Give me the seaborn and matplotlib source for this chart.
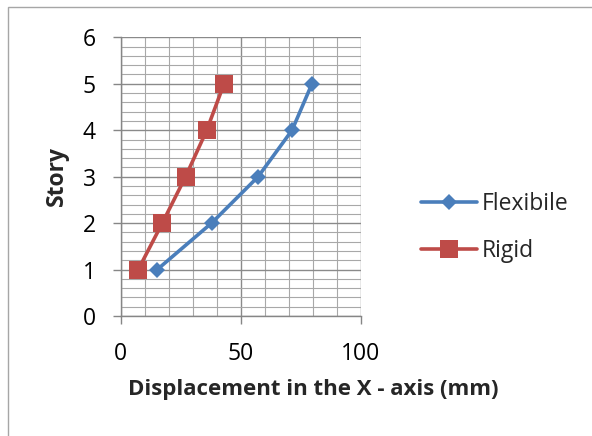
import matplotlib
matplotlib.use("Agg")
import matplotlib.pyplot as plt
from matplotlib.patches import Rectangle
from matplotlib.lines import Line2D
from matplotlib.ticker import MultipleLocator
import seaborn as sns
import pandas as pd

# Story drift data
stories = [1, 2, 3, 4, 5]
flexible_disp = [15.2, 37.8, 57.2, 71.3, 79.6]
rigid_disp = [7.3, 17.3, 27.0, 35.8, 43.0]
series_names = ["Flexibile", "Rigid"]

df = pd.DataFrame({
    "disp": flexible_disp + rigid_disp,
    "story": stories + stories,
    "model": [series_names[0]] * len(stories) + [series_names[1]] * len(stories),
})

sns.set_style("white")
plt.rcParams["font.family"] = ["Open Sans", "DejaVu Sans"]

fig = plt.figure(figsize=(5.92, 4.36), dpi=100)
ax = fig.add_axes([0.2039, 0.2752, 0.4059, 0.6392])

# outer chart border
fig.patches.append(Rectangle((8 / 592, -0.05), 1.2, 1 - 7 / 436 + 0.05,
                             transform=fig.transFigure, fill=False,
                             edgecolor="#a6a6a6", linewidth=1.0))

palette = {"Flexibile": "#4A7EBB", "Rigid": "#BE4B48"}
markers = {"Flexibile": "D", "Rigid": "s"}
marker_sizes = [8.0, 13.5]
sns.lineplot(data=df, x="disp", y="story", hue="model", style="model",
             palette=palette, markers=markers, dashes=False, sort=False,
             linewidth=2.6, ax=ax, legend=False, zorder=3)
for line, ms in zip(ax.lines, marker_sizes):
    line.set_markersize(ms)
    line.set_markeredgewidth(0)

ax.set_xlim(0, 100)
ax.set_ylim(0, 6)
ax.xaxis.set_major_locator(MultipleLocator(50))
ax.xaxis.set_minor_locator(MultipleLocator(10))
ax.yaxis.set_major_locator(MultipleLocator(1))
ax.yaxis.set_minor_locator(MultipleLocator(0.2))
ax.grid(which="major", color="#8a8a8a", linewidth=1.0, zorder=0)
ax.grid(which="minor", color="#a8a8a8", linewidth=0.8, zorder=0)
ax.set_axisbelow(True)

for side in ["top", "right"]:
    ax.spines[side].set_visible(False)
for side in ["left", "bottom"]:
    ax.spines[side].set_color("#868686")
    ax.spines[side].set_linewidth(1.0)

ax.tick_params(which="major", direction="out", length=6, width=1.0,
               color="#868686", labelsize=16.5, labelcolor="black")
ax.tick_params(which="minor", length=0)
ax.tick_params(axis="x", pad=13)
ax.tick_params(axis="y", pad=12)
ax.tick_params(left=True, bottom=True)

ax.set_xlabel("")
ax.set_ylabel("")
fig.text(57 / 592, 1 - 176 / 436, "Story", rotation=90,
         ha="center", va="center", fontsize=16.5, fontweight="bold")
fig.text(313 / 592, 1 - 389 / 436, "Displacement in the X - axis (mm)",
         ha="center", va="center", fontsize=16, fontweight="bold")

handles = [Line2D([], [], color=palette[n], marker=markers[n], linewidth=2.6,
                  markersize=ms, markeredgewidth=0)
           for n, ms in zip(series_names, marker_sizes)]
fig.legend(handles, series_names, loc="center left",
           bbox_to_anchor=(421 / 592, 1 - 227.5 / 436), frameon=False,
           fontsize=16.5, handlelength=2.45, handletextpad=0.2,
           labelspacing=1.03, borderpad=0, borderaxespad=0)

fig.savefig("out.png", dpi=100)
